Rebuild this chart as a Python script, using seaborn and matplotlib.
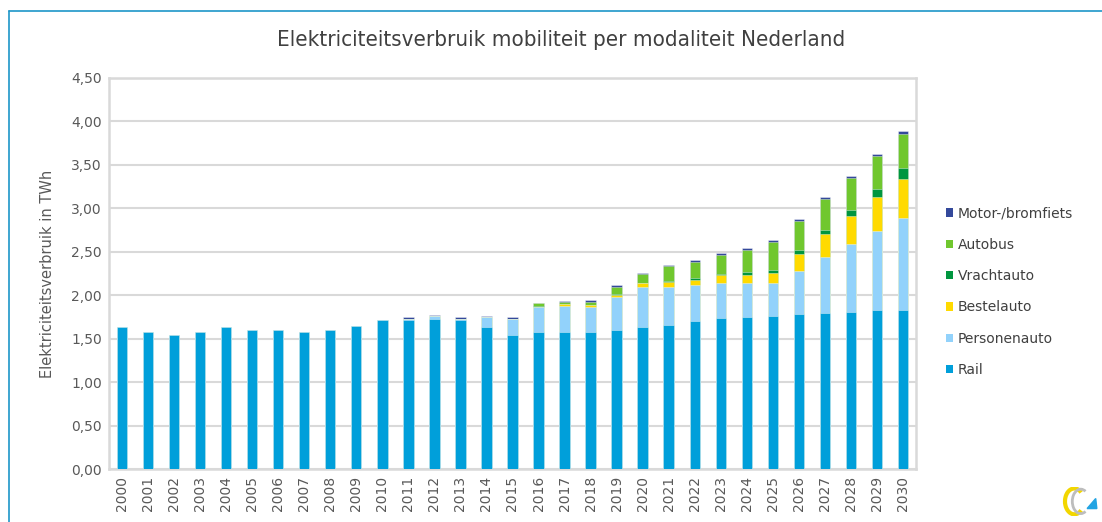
import numpy as np
import pandas as pd
import seaborn as sns
import matplotlib.pyplot as plt
from matplotlib.patches import Patch, Arc, Polygon
from matplotlib.lines import Line2D

# jaren en verbruik per modaliteit (TWh)
years = [str(y) for y in range(2000, 2031)]
rail = [1.63, 1.58, 1.54, 1.58, 1.63, 1.60, 1.60, 1.58, 1.60, 1.65, 1.71,
        1.71, 1.73, 1.71, 1.63, 1.54, 1.58, 1.58, 1.58, 1.60, 1.64,
        1.66, 1.70, 1.74, 1.75, 1.765, 1.78, 1.79, 1.81, 1.825, 1.835]
personenauto = [0, 0, 0, 0, 0, 0, 0, 0, 0, 0, 0,
                0.02, 0.03, 0.02, 0.125, 0.19, 0.28, 0.30, 0.29, 0.38, 0.45,
                0.44, 0.415, 0.40, 0.39, 0.375, 0.50, 0.65, 0.78, 0.91, 1.055]
bestelauto = [0, 0, 0, 0, 0, 0, 0, 0, 0, 0, 0,
              0, 0, 0, 0, 0, 0.01, 0.015, 0.015, 0.025, 0.045,
              0.055, 0.06, 0.09, 0.095, 0.12, 0.20, 0.26, 0.32, 0.39, 0.445]
vrachtauto = [0, 0, 0, 0, 0, 0, 0, 0, 0, 0, 0,
              0, 0, 0, 0, 0, 0.005, 0.005, 0.005, 0.005, 0.01,
              0.01, 0.02, 0.02, 0.03, 0.03, 0.04, 0.045, 0.07, 0.095, 0.13]
autobus = [0, 0, 0, 0, 0, 0, 0, 0, 0, 0, 0,
           0, 0, 0, 0, 0, 0.03, 0.02, 0.035, 0.085, 0.095,
           0.17, 0.19, 0.21, 0.26, 0.325, 0.33, 0.36, 0.37, 0.38, 0.395]
motor = [0, 0, 0, 0, 0, 0, 0, 0, 0, 0, 0,
         0.015, 0.01, 0.015, 0.01, 0.015, 0.01, 0.01, 0.015, 0.02, 0.015,
         0.015, 0.02, 0.025, 0.02, 0.02, 0.027, 0.025, 0.027, 0.027, 0.033]

labels = ['Rail', 'Personenauto', 'Bestelauto', 'Vrachtauto', 'Autobus', 'Motor-/bromfiets']
colors = ['#009FDA', '#92D2FB', '#FFDA00', '#00963F', '#70C72E', '#34499B']

df = pd.DataFrame({'jaar': years, 'Rail': rail, 'Personenauto': personenauto,
                   'Bestelauto': bestelauto, 'Vrachtauto': vrachtauto,
                   'Autobus': autobus, 'Motor-/bromfiets': motor})
cum = df[labels].cumsum(axis=1)

sns.set_style('white')
plt.rcParams['font.family'] = ['DejaVu Sans']
grey = '#595959'

fig = plt.figure(figsize=(11.02, 5.22), dpi=100)
ax = fig.add_axes([0.0989, 0.1015, 0.7323, 0.7491])

# gestapeld: eerst totaal, dan telkens de lagere som eroverheen
for lab, col in reversed(list(zip(labels, colors))):
    sns.barplot(x=df['jaar'], y=cum[lab], color=col, saturation=1, width=0.4,
                edgecolor=(1, 1, 1, 0.45), linewidth=0.6, ax=ax, zorder=3)

ax.set_ylim(0, 4.5)
ax.set_xlim(-0.5, len(years) - 0.5)
ticks = np.arange(0, 4.51, 0.5)
ax.set_yticks(ticks)
ax.set_yticklabels([f'{t:.2f}'.replace('.', ',') for t in ticks], color=grey, fontsize=10)
ax.set_xticks(range(len(years)))
ax.set_xticklabels(years, rotation=90, color=grey, fontsize=10)
ax.tick_params(length=0, pad=5)
ax.yaxis.grid(True, color='#D9D9D9', linewidth=1.5, zorder=0)
ax.set_axisbelow(True)
for s in ax.spines.values():
    s.set_color('#D9D9D9')
    s.set_linewidth(1.8)
ax.set_xlabel('')
ax.set_ylabel('Elektriciteitsverbruik in TWh', color=grey, fontsize=10.5, labelpad=12)

fig.text(0.509, 0.923, 'Elektriciteitsverbruik mobiliteit per modaliteit Nederland',
         ha='center', va='center', color='#404040', fontsize=16, fontstretch='condensed')

handles = [Patch(facecolor=c, edgecolor='none', label=l) for l, c in zip(labels, colors)][::-1]
fig.legend(handles=handles, loc='upper left', bbox_to_anchor=(0.852, 0.618),
           frameon=False, fontsize=10, labelcolor='#404040', handlelength=0.55,
           handleheight=0.55, handletextpad=0.3, labelspacing=1.25, borderpad=0)

# kader
fig.add_artist(Line2D([0.0085, 1.0], [0.978, 0.978], color='#1E96C8', linewidth=1.2))
fig.add_artist(Line2D([0.0085, 0.0085], [0.0, 0.978], color='#1E96C8', linewidth=1.2))

# klein logo rechtsonder
lax = fig.add_axes([0.962, 0.012, 0.034, 0.055])
lax.set_xlim(0, 1)
lax.set_ylim(0, 1)
lax.axis('off')
lax.add_patch(Arc((0.38, 0.5), 0.5, 0.9, theta1=60, theta2=300, color='#F2D600', linewidth=3))
lax.add_patch(Arc((0.55, 0.5), 0.45, 0.85, theta1=70, theta2=290, color='#BDBDBD', linewidth=2))
lax.add_patch(Polygon([[0.72, 0.25], [0.98, 0.25], [0.95, 0.6]], color='#22A4E3'))

fig.savefig('out.png', dpi=100)
